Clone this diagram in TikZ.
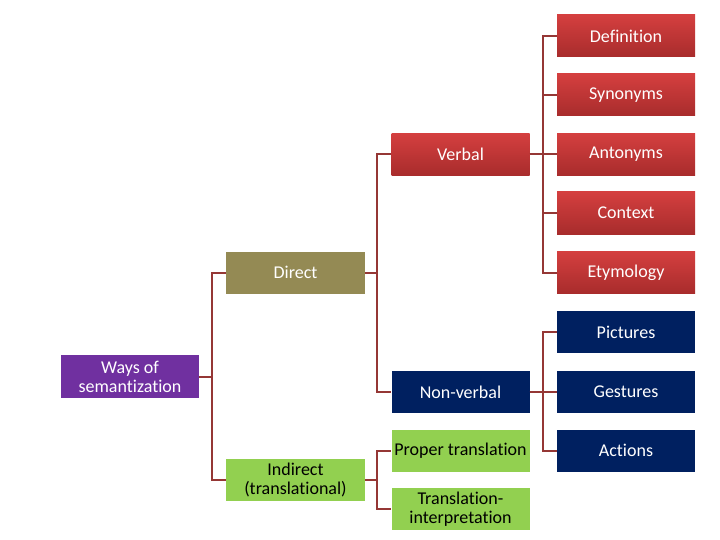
\documentclass[tikz,border=0pt]{standalone}
\usepackage{fontspec}
\setmainfont{Carlito}[Ligatures=NoCommon]
\usepackage{tikz}
\usetikzlibrary{calc}

\definecolor{waysfill}{HTML}{7030A0}
\definecolor{directfill}{HTML}{948A54}
\definecolor{indirectfill}{HTML}{92D050}
\definecolor{navyfill}{HTML}{002060}
\definecolor{redtop}{HTML}{D43F3F}
\definecolor{redbottom}{HTML}{A82C2C}
\definecolor{linkred}{HTML}{953735}

\begin{document}
\begin{tikzpicture}[x=1pt, y=-1pt,
        box/.style={minimum width=138pt, minimum height=42pt, inner sep=1pt,
            align=center, text=white, font=\fontsize{18}{19}\selectfont},
        redbox/.style={box, top color=redtop, bottom color=redbottom},
        navybox/.style={box, fill=navyfill},
        greenbox/.style={box, fill=indirectfill, text=black},
        link/.style={draw=linkred, line width=2pt}]
        \useasboundingbox (0,0) rectangle (720,540);

        % first level
        \node[box, fill=waysfill, minimum height=43pt] (ways) at (130,376.5) {Ways of\\semantization};
        \node[box, fill=directfill, minimum width=139pt] (direct) at (295.5,272.5) {Direct};
        \node[greenbox, minimum width=139pt] (indirect) at (295.5,480) {Indirect\\(translational)};

        % second level
        \node[redbox] (verbal) at (460.5,154.5) {Verbal};
        \node[navybox] (nonverbal) at (460.5,392) {Non-verbal};
        \node[greenbox] (proper) at (460.5,450.5) {Proper translation};
        \node[greenbox] (interp) at (460.5,509) {Translation-\\interpretation};

        % third level
        \node[redbox] (definition) at (626,36) {Definition};
        \node[redbox] (synonyms) at (626,95) {Synonyms};
        \node[redbox] (antonyms) at (626,154.5) {Antonyms};
        \node[redbox] (context) at (626,213) {Context};
        \node[redbox] (etymology) at (626,272.5) {Etymology};
        \node[navybox] (pictures) at (626,332) {Pictures};
        \node[navybox] (gestures) at (626,392) {Gestures};
        \node[navybox] (actions) at (626,450.5) {Actions};

        % connectors
        \foreach \child in {direct, indirect}
            \draw[link] (ways.east) -- ++(13,0) |- (\child.west);
        \foreach \child in {verbal, nonverbal}
            \draw[link] (direct.east) -- ++(12,0) |- (\child.west);
        \foreach \child in {proper, interp}
            \draw[link] (indirect.east) -- ++(12,0) |- (\child.west);
        \foreach \child in {definition, synonyms, antonyms, context, etymology}
            \draw[link] (verbal.east) -- ++(13,0) |- (\child.west);
        \foreach \child in {pictures, gestures, actions}
            \draw[link] (nonverbal.east) -- ++(13,0) |- (\child.west);
    \end{tikzpicture}
\end{document}
